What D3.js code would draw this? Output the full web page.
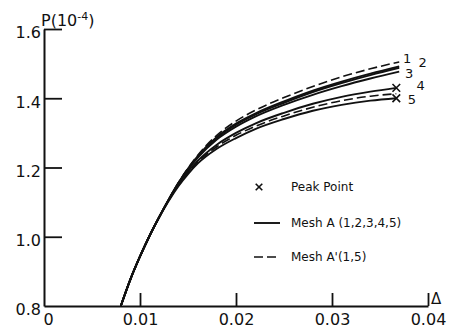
<!DOCTYPE html>
<html>
<head>
<meta charset="utf-8">
<script src="https://cdn.jsdelivr.net/npm/d3@7"></script>
<style>
  body { margin: 0; background: #fff; }
  text { font-family: "DejaVu Sans", sans-serif; fill: #111; }
</style>
</head>
<body>
<script>
// displacement grid (shared by all curves)
const delta = [0.008, 0.009, 0.010, 0.011, 0.012, 0.013, 0.014, 0.015, 0.016, 0.018, 0.020, 0.022, 0.025, 0.028, 0.031, 0.034, 0.037];
const deltaLow = [0.008, 0.009, 0.010, 0.011, 0.012, 0.013, 0.014, 0.015, 0.016, 0.018, 0.020, 0.022, 0.025, 0.028, 0.031, 0.034, 0.0367];

// load P (10^-4), mesh A
const meshA1 = [0.80, 0.877, 0.943, 1.003, 1.057, 1.108, 1.155, 1.196, 1.232, 1.288, 1.327, 1.356, 1.391, 1.422, 1.448, 1.471, 1.492];
const meshA2 = [0.80, 0.877, 0.943, 1.003, 1.057, 1.108, 1.155, 1.196, 1.231, 1.286, 1.324, 1.353, 1.387, 1.418, 1.444, 1.467, 1.488];
const meshA3 = [0.80, 0.877, 0.943, 1.003, 1.057, 1.108, 1.154, 1.194, 1.228, 1.281, 1.318, 1.347, 1.381, 1.410, 1.435, 1.457, 1.477];
const meshA4 = [0.80, 0.877, 0.943, 1.003, 1.057, 1.107, 1.151, 1.188, 1.219, 1.266, 1.300, 1.327, 1.358, 1.384, 1.404, 1.419, 1.430];
const meshA5 = [0.80, 0.877, 0.943, 1.003, 1.056, 1.104, 1.146, 1.181, 1.211, 1.254, 1.285, 1.311, 1.340, 1.364, 1.381, 1.393, 1.400];
// mesh A'
const meshAp1 = [0.80, 0.877, 0.943, 1.003, 1.057, 1.108, 1.156, 1.198, 1.235, 1.293, 1.334, 1.365, 1.402, 1.434, 1.462, 1.485, 1.505];
const meshAp5 = [0.80, 0.877, 0.943, 1.003, 1.057, 1.105, 1.148, 1.184, 1.215, 1.260, 1.293, 1.319, 1.349, 1.374, 1.393, 1.406, 1.413];

const xTicks = [0, 0.01, 0.02, 0.03, 0.04];
const yTicks = [0.8, 1.0, 1.2, 1.4, 1.6];

const curves = [
  { id: "1", xs: delta, ys: meshA1, dashed: false },
  { id: "2", xs: delta, ys: meshA2, dashed: false },
  { id: "3", xs: delta, ys: meshA3, dashed: false },
  { id: "4", xs: deltaLow, ys: meshA4, dashed: false, peak: true },
  { id: "5", xs: deltaLow, ys: meshA5, dashed: false, peak: true },
  { id: "1'", xs: delta, ys: meshAp1, dashed: true },
  { id: "5'", xs: deltaLow, ys: meshAp5, dashed: true }
];

const width = 450, height = 331;
const svg = d3.select("body").append("svg")
  .attr("width", width).attr("height", height);

const x = d3.scaleLinear().domain([0, 0.04]).range([44, 428]);
const y = d3.scaleLinear().domain([0.8, 1.6]).range([306, 29]);

// axes
const xAxis = svg.append("g")
  .attr("transform", `translate(0,${y(0.8)})`)
  .call(d3.axisBottom(x).tickValues(xTicks)
    .tickFormat(d => d === 0 ? "0" : d3.format(".2f")(d))
    .tickSizeInner(-13).tickSizeOuter(0).tickPadding(4));
xAxis.select(".domain").attr("stroke", "#111").attr("stroke-width", 2);
xAxis.selectAll(".tick line").attr("stroke", "#111").attr("stroke-width", 1.8)
  .filter(d => d === 0).remove();
xAxis.selectAll(".tick text").attr("font-size", 16).attr("dy", "0.95em")
  .filter(d => d === 0).attr("dx", 4);

const yAxis = svg.append("g")
  .attr("transform", `translate(${x(0)},0)`)
  .call(d3.axisLeft(y).tickValues(yTicks)
    .tickFormat(d3.format(".1f"))
    .tickSizeInner(-18).tickSizeOuter(0).tickPadding(3));
yAxis.select(".domain").attr("stroke", "#111").attr("stroke-width", 2);
yAxis.selectAll(".tick line").attr("stroke", "#111").attr("stroke-width", 1.8)
  .filter(d => d === 0.8).remove();
yAxis.selectAll(".tick text").attr("font-size", 16).attr("dy", "0.55em");

// axis titles
const yTitle = svg.append("text").attr("x", 41).attr("y", 26).attr("font-size", 16);
yTitle.append("tspan").text("P(10");
yTitle.append("tspan").attr("font-size", 11).attr("dy", -6).text("-4");
yTitle.append("tspan").attr("dy", 6).text(")");

svg.append("text").attr("x", 431).attr("y", 304).attr("font-size", 15).text("Δ");

// curves
const line = d3.line().curve(d3.curveMonotoneX);
svg.append("g").selectAll("path")
  .data(curves)
  .join("path")
  .attr("d", c => line(c.xs.map((v, i) => [x(v), y(c.ys[i])])))
  .attr("fill", "none")
  .attr("stroke", "#111")
  .attr("stroke-width", c => c.dashed ? 1.6 : 1.9)
  .attr("stroke-dasharray", c => c.dashed ? "9,4" : null);

// peak markers
const peaks = curves.filter(c => c.peak);
svg.append("g").selectAll("path")
  .data(peaks)
  .join("path")
  .attr("transform", c => `translate(${x(c.xs[c.xs.length - 1])},${y(c.ys[c.ys.length - 1])})`)
  .attr("d", d3.symbol(d3.symbolX, 40))
  .attr("stroke", "#111").attr("stroke-width", 1.6).attr("fill", "none");

// curve numbers
const curveLabels = [
  { t: "1", d: 0.0374, p: 1.515 },
  { t: "2", d: 0.0390, p: 1.503 },
  { t: "3", d: 0.0376, p: 1.472 },
  { t: "4", d: 0.0388, p: 1.436 },
  { t: "5", d: 0.0379, p: 1.396 }
];
svg.append("g").selectAll("text")
  .data(curveLabels)
  .join("text")
  .attr("x", d => x(d.d)).attr("y", d => y(d.p))
  .attr("dy", "0.35em")
  .attr("font-size", 13)
  .text(d => d.t);

// legend
const legend = svg.append("g").attr("font-size", 12);
legend.append("path")
  .attr("transform", "translate(259,187)")
  .attr("d", d3.symbol(d3.symbolX, 30))
  .attr("stroke", "#111").attr("stroke-width", 1.6).attr("fill", "none");
legend.append("text").attr("x", 291).attr("y", 191).text("Peak Point");
legend.append("line").attr("x1", 254).attr("x2", 280).attr("y1", 223).attr("y2", 223)
  .attr("stroke", "#111").attr("stroke-width", 1.9);
legend.append("text").attr("x", 291).attr("y", 227).text("Mesh A (1,2,3,4,5)");
legend.append("line").attr("x1", 254).attr("x2", 280).attr("y1", 257).attr("y2", 257)
  .attr("stroke", "#111").attr("stroke-width", 1.6).attr("stroke-dasharray", "9,4");
legend.append("text").attr("x", 291).attr("y", 261).text("Mesh A'(1,5)");
</script>
</body>
</html>
